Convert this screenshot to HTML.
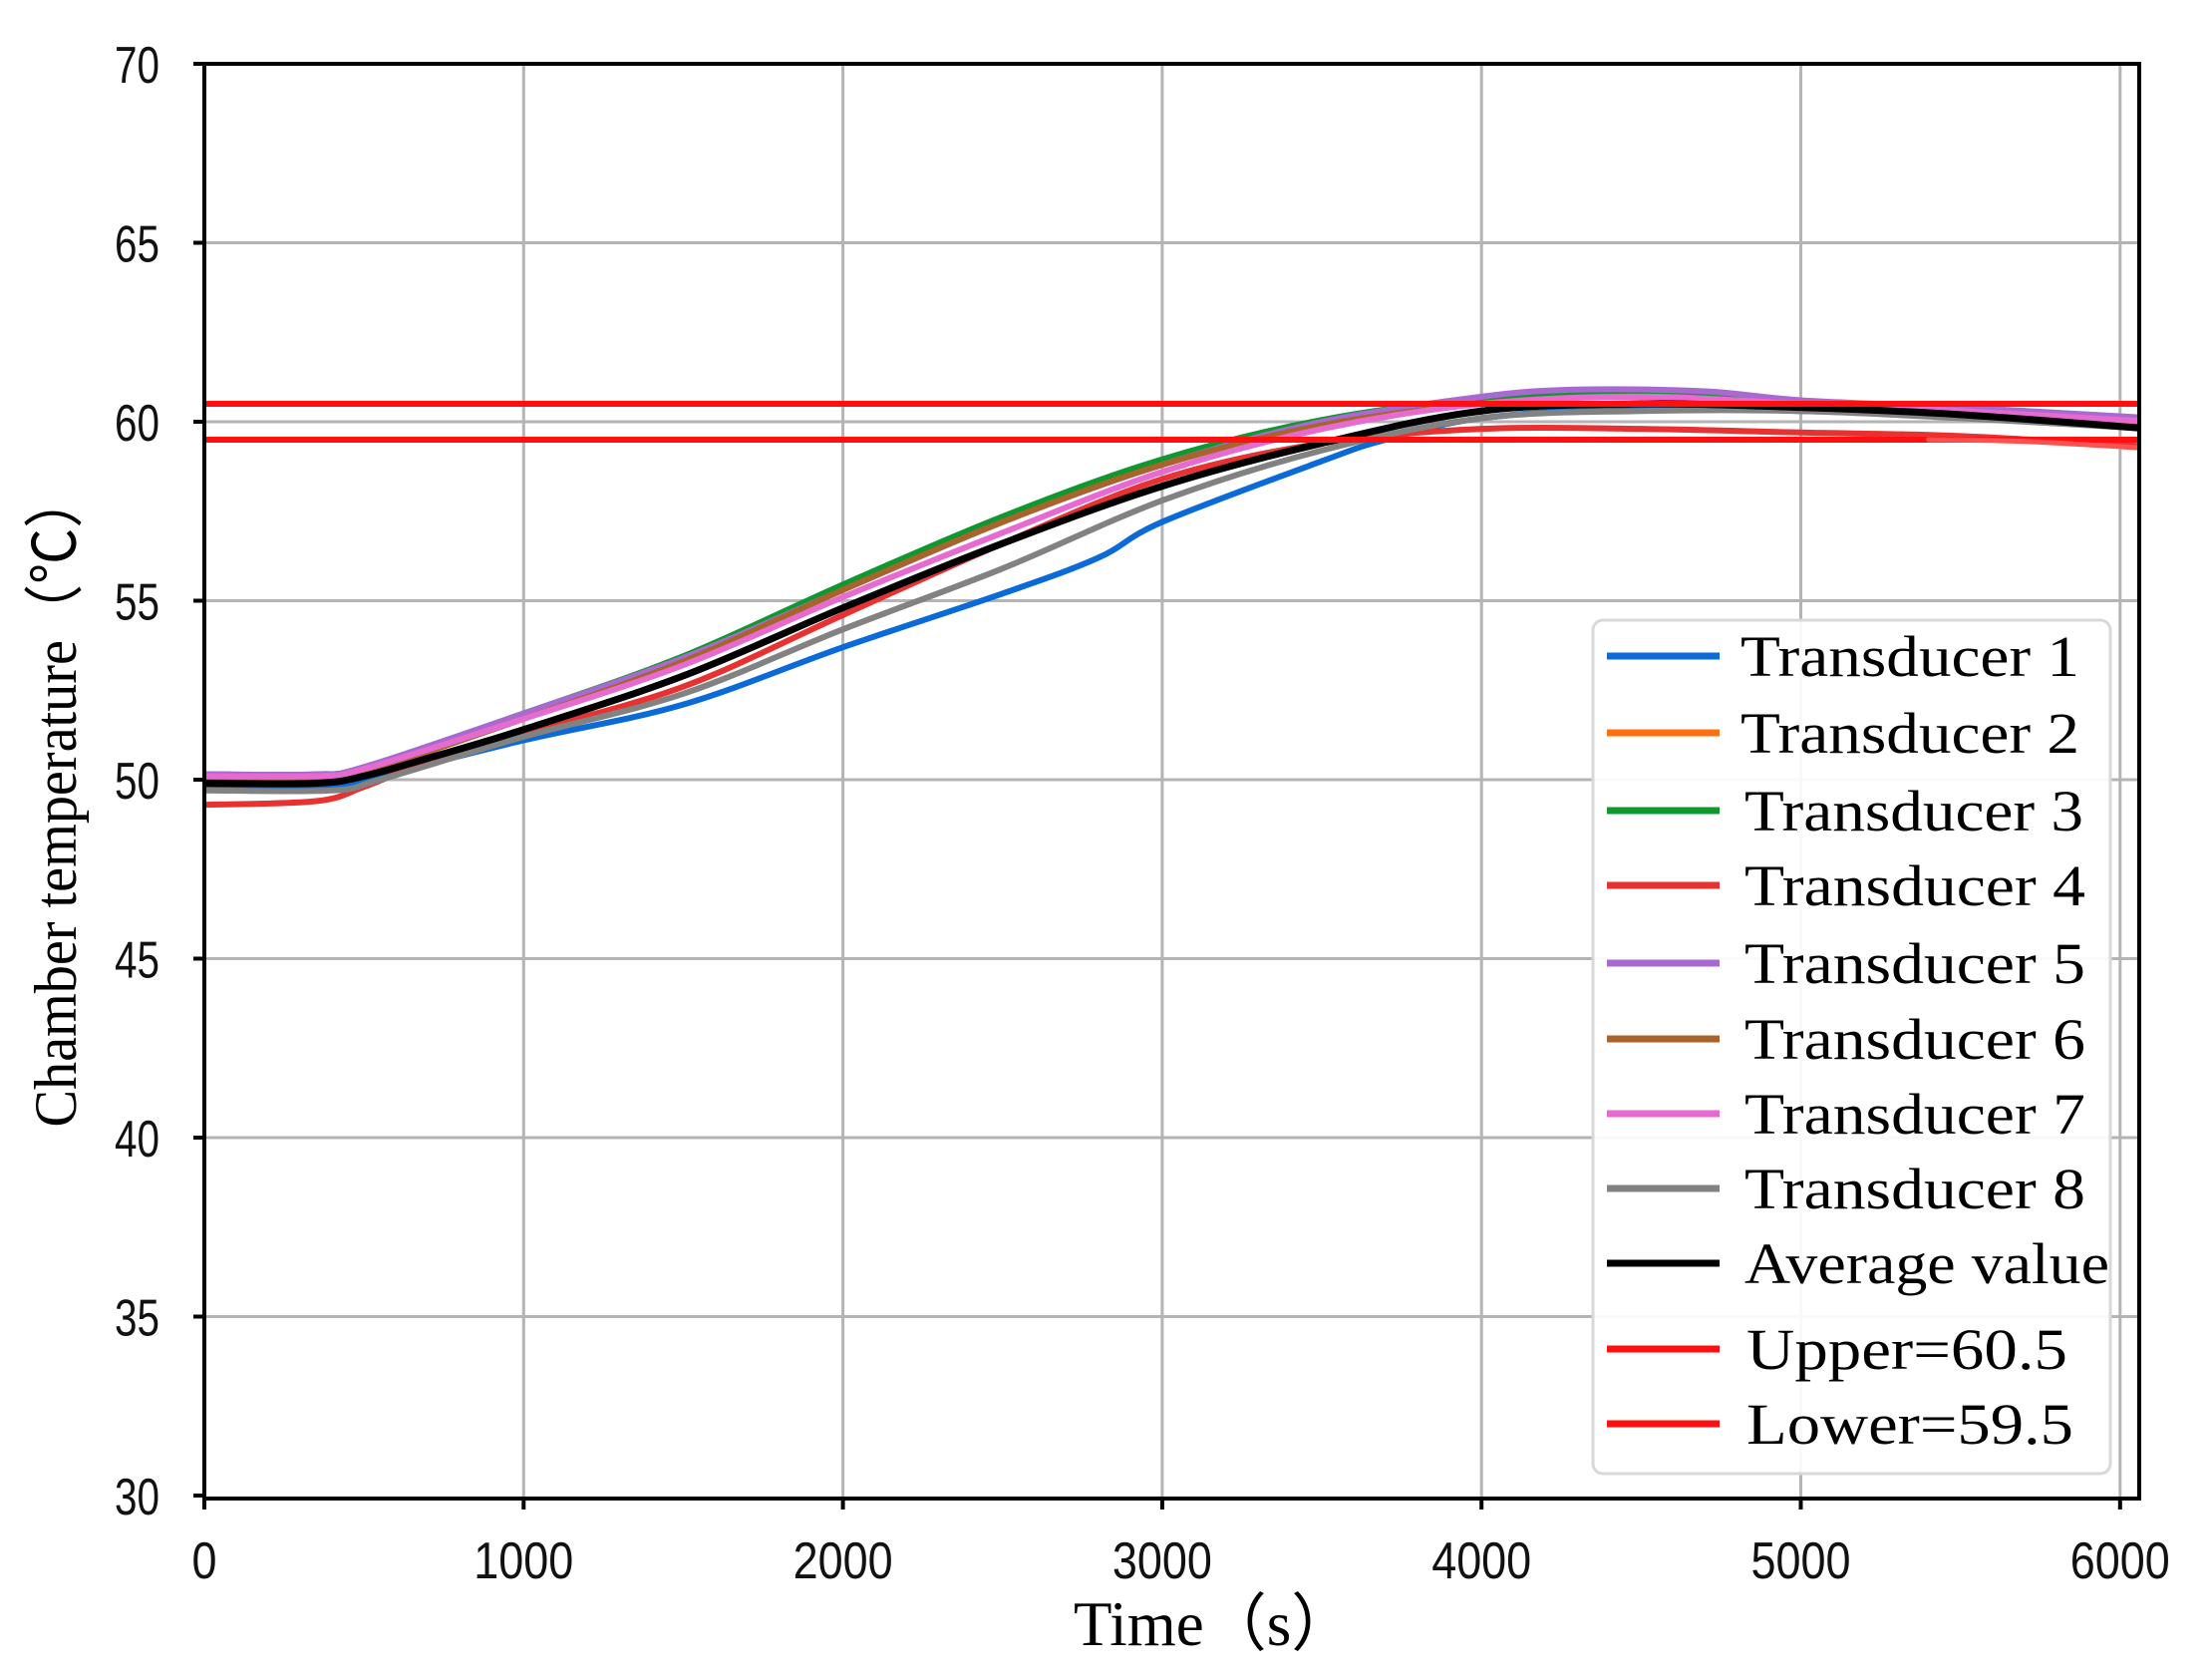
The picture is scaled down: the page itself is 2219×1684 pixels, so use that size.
<!DOCTYPE html>
<html><head><meta charset="utf-8">
<style>
html,body{margin:0;padding:0;background:#fff;}
svg{display:block;}
.tk{font-family:"Liberation Sans",sans-serif;font-size:52px;fill:#111;}
.ser{font-family:"Liberation Serif",serif;fill:#000;}
</style></head>
<body>
<svg id="s" width="2219" height="1684" viewBox="0 0 2219 1684" xmlns="http://www.w3.org/2000/svg">
<defs><clipPath id="cp"><rect x="205" y="64" width="1941" height="1439"/></clipPath></defs>
<g id="grid" stroke="#b4b4b4" stroke-width="3"></g>
<g id="curves" clip-path="url(#cp)" fill="none" stroke-linejoin="round" stroke-linecap="round"></g>
<rect x="205" y="64" width="1941" height="1439" fill="none" stroke="#000" stroke-width="4"/>
<g id="ticks" stroke="#000" stroke-width="4"></g>
<g id="labels"></g>
<rect x="1598" y="622" width="519" height="856" rx="10" fill="#fff" fill-opacity="0.92" stroke="#d8d8d8" stroke-width="3"/>
<g id="legend"></g>
<text class="ser" x="1077" y="1650" font-size="63">Time（s）</text>
<text class="ser" transform="translate(76,802) rotate(-90)" text-anchor="middle" font-size="60" textLength="657" lengthAdjust="spacingAndGlyphs" fill="#2a1a00">Chamber temperature（℃）</text>
</svg>
<script>
(function(){
var NS="http://www.w3.org/2000/svg";
function X(t){return 205+t*0.3203;}
function Y(v){return 64+(70-v)*35.9;}
function el(tag,attrs,parent,txt){var e=document.createElementNS(NS,tag);for(var k in attrs)e.setAttribute(k,attrs[k]);if(txt!==undefined)e.textContent=txt;parent.appendChild(e);return e;}
var grid=document.getElementById('grid'),ticks=document.getElementById('ticks'),labels=document.getElementById('labels');
for(var t=1000;t<=6000;t+=1000){el('line',{x1:X(t),x2:X(t),y1:64,y2:1503},grid);}
for(var v=35;v<=65;v+=5){el('line',{x1:205,x2:2146,y1:Y(v),y2:Y(v)},grid);}
for(var t2=0;t2<=6000;t2+=1000){el('line',{x1:X(t2),x2:X(t2),y1:1503,y2:1514},ticks);
 var s=String(t2);el('text',{x:X(t2),y:1583,'text-anchor':'middle','class':'tk',textLength:s.length*25,lengthAdjust:'spacingAndGlyphs'},labels,s);}
for(var v2=30;v2<=70;v2+=5){el('line',{x1:194,x2:205,y1:Y(v2),y2:Y(v2)},ticks);
 el('text',{x:160,y:Y(v2)+19,'text-anchor':'end','class':'tk',textLength:45,lengthAdjust:'spacingAndGlyphs'},labels,String(v2));}
function path(pts){var p=pts.map(function(a){return [X(a[0]),Y(a[1])];});var d='M'+p[0][0]+','+p[0][1];
 for(var i=0;i<p.length-1;i++){var p0=p[i-1]||p[i],p1=p[i],p2=p[i+1],p3=p[i+2]||p2;
  var c1=[p1[0]+(p2[0]-p0[0])/6,p1[1]+(p2[1]-p0[1])/6],c2=[p2[0]-(p3[0]-p1[0])/6,p2[1]-(p3[1]-p1[1])/6];
  d+=' C'+c1[0]+','+c1[1]+' '+c2[0]+','+c2[1]+' '+p2[0]+','+p2[1];}return d;}
var topC=[[0,50.1],[350,50.1],[500,50.3],[1000,51.8],[1500,53.4],[2000,55.4],[2500,57.3],[3000,58.9],[3500,60.0],[4000,60.6],[4500,60.8],[5000,60.5],[5500,60.3],[6100,60.0]];
function sh(arr,dv){return arr.map(function(a){return [a[0],a[1]+dv];});}
var S=[
 ['#0a6ad8',[[0,49.8],[350,49.8],[500,50.0],[1000,51.1],[1500,52.1],[2000,53.7],[2500,55.2],[2800,56.2],[3000,57.2],[3500,58.9],[3700,59.5],[4000,60.1],[4500,60.4],[5000,60.3],[5500,60.2],[6100,59.9]]],
 ['#ff7010',sh(topC,-0.05)],
 ['#109830',sh(topC,0.05)],
 ['#e83232',[[0,49.3],[350,49.4],[500,49.8],[700,50.5],[1000,51.3],[1500,52.6],[2000,54.6],[2500,56.6],[3000,58.4],[3500,59.4],[4000,59.8],[4500,59.8],[5000,59.7],[5500,59.6],[6100,59.3]]],
 ['#a86ad0',[[0,50.15],[350,50.15],[500,50.35],[1000,51.85],[1500,53.4],[2000,55.3],[2500,57.2],[3000,58.8],[3500,60.0],[4000,60.7],[4300,60.9],[4700,60.85],[5000,60.6],[5500,60.4],[6100,60.1]]],
 ['#a8642a',sh(topC,-0.1)],
 ['#e66ad0',[[0,50.1],[350,50.1],[500,50.3],[1000,51.7],[1500,53.2],[2000,55.1],[2500,56.9],[3000,58.6],[3500,59.8],[4000,60.5],[4500,60.7],[5000,60.5],[5500,60.3],[6100,60.0]]],
 ['#828282',[[0,49.7],[400,49.7],[550,50.0],[1000,51.2],[1500,52.4],[2000,54.2],[2500,55.9],[3000,57.8],[3500,59.2],[4000,60.1],[4500,60.3],[5000,60.3],[5500,60.1],[6100,59.8]]],
 ['#000000',[[0,49.9],[350,49.9],[500,50.1],[700,50.6],[1000,51.4],[1500,52.9],[2000,54.8],[2500,56.6],[3000,58.2],[3500,59.4],[4000,60.3],[4500,60.5],[5000,60.4],[5500,60.2],[6100,59.8]]]
];
var cg=document.getElementById('curves');
S.forEach(function(s){el('path',{d:path(s[1]),stroke:s[0],'stroke-width':s[0]=='#000000'?7:6},cg);});
el('line',{x1:205,x2:2146,y1:Y(60.5),y2:Y(60.5),stroke:'#ff1010','stroke-width':6},cg);
el('line',{x1:205,x2:2146,y1:Y(59.5),y2:Y(59.5),stroke:'#ff1010','stroke-width':6},cg);
el('path',{d:path([[5400,59.5],[5700,59.45],[6100,59.25]]),stroke:'#ff5050','stroke-width':5},cg);
var lg=document.getElementById('legend');
var L=[['#0a6ad8','Transducer 1',658,340,1746],['#ff7010','Transducer 2',735,340,1746],['#109830','Transducer 3',813,340,1750],['#e83232','Transducer 4',888,342,1750],['#a86ad0','Transducer 5',966,342,1750],['#a8642a','Transducer 6',1042,342,1750],['#e66ad0','Transducer 7',1117,342,1750],['#828282','Transducer 8',1192,342,1750],['#000000','Average value',1267,366,1750],['#ff1010','Upper=60.5',1353,322,1752],['#ff1010','Lower=59.5',1428,328,1752]];
L.forEach(function(r){el('line',{x1:1612,x2:1725,y1:r[2],y2:r[2],stroke:r[0],'stroke-width':7},lg);
 el('text',{x:r[4],y:r[2]+20,'class':'ser','font-size':58,textLength:r[3],lengthAdjust:'spacingAndGlyphs'},lg,r[1]);});
})();
</script>
</body></html>
